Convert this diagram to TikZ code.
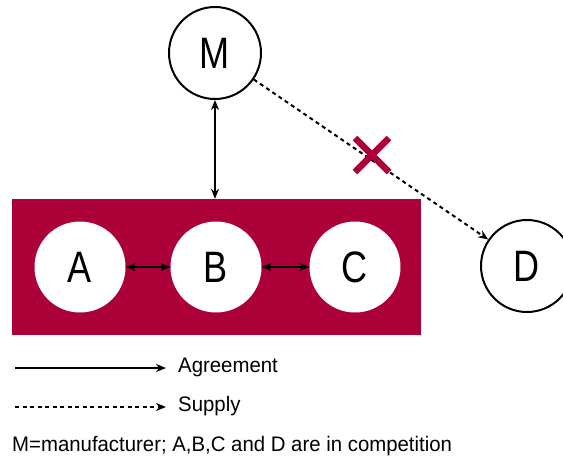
\documentclass[tikz,border=0pt]{standalone}
\usepackage{fontspec}
\setmainfont{Liberation Sans}[FakeStretch=0.97]
\newfontfamily\lettersfont{Liberation Sans}[FakeStretch=0.82]
\usetikzlibrary{arrows.meta,calc}
\definecolor{crimson}{RGB}{171,0,56}
\begin{document}
\begin{tikzpicture}[x=1pt,y=-1pt,
  party/.style={circle,draw=black,line width=2pt,fill=white,minimum size=92pt,inner sep=0pt,font=\lettersfont\fontsize{44}{48}\selectfont},
  member/.style={circle,fill=white,minimum size=91pt,inner sep=0pt,font=\lettersfont\fontsize{44}{48}\selectfont},
  agree/.style={line width=2pt,-{Stealth[length=10pt,width=8pt]}},
  both/.style={line width=2pt,{Stealth[length=10pt,width=8pt]}-{Stealth[length=10pt,width=8pt]}},
  supply/.style={line width=2pt,dash pattern=on 4pt off 3.5pt,-{Stealth[length=10pt,width=8pt]}},
  legend/.style={anchor=west,inner sep=0pt,font=\fontsize{21}{24}\selectfont}]
\useasboundingbox (0,0) rectangle (563,459);
% competing group
\node[fill=crimson,minimum width=409pt,minimum height=136pt,inner sep=0pt] (group) at (216.5,267) {};
\node[member] (A) at (80,267) {A};
\node[member] (B) at (216,267) {B};
\node[member] (C) at (355,267) {C};
% manufacturer and outside dealer
\node[party] (M) at (215,53) {M};
\node[party] (D) at (527,266) {D};
% relations
\draw[both] (A) -- (B);
\draw[both] (B) -- (C);
\draw[both] (M.south) -- (M.south |- group.north);
\draw[supply] (M) -- (D);
% blocked supply
\coordinate (X) at (372,155);
\draw[crimson,line width=6.5pt] ($(X)+(-17,-17)$) -- ($(X)+(17,17)$) ($(X)+(-17,17)$) -- ($(X)+(17,-17)$);
% legend
\coordinate (l1a) at (15,368);
\coordinate (l1b) at (166,368);
\coordinate (l2a) at (15,407);
\coordinate (l2b) at (166,407);
\draw[agree] (l1a) -- (l1b);
\draw[supply] (l2a) -- (l2b);
\node[legend] (t1) at (178,367) {Agreement};
\node[legend] (t2) at (178,406) {Supply};
\node[legend] (t3) at (12,446) {M=manufacturer; A,B,C and D are in competition};
\end{tikzpicture}
\end{document}
